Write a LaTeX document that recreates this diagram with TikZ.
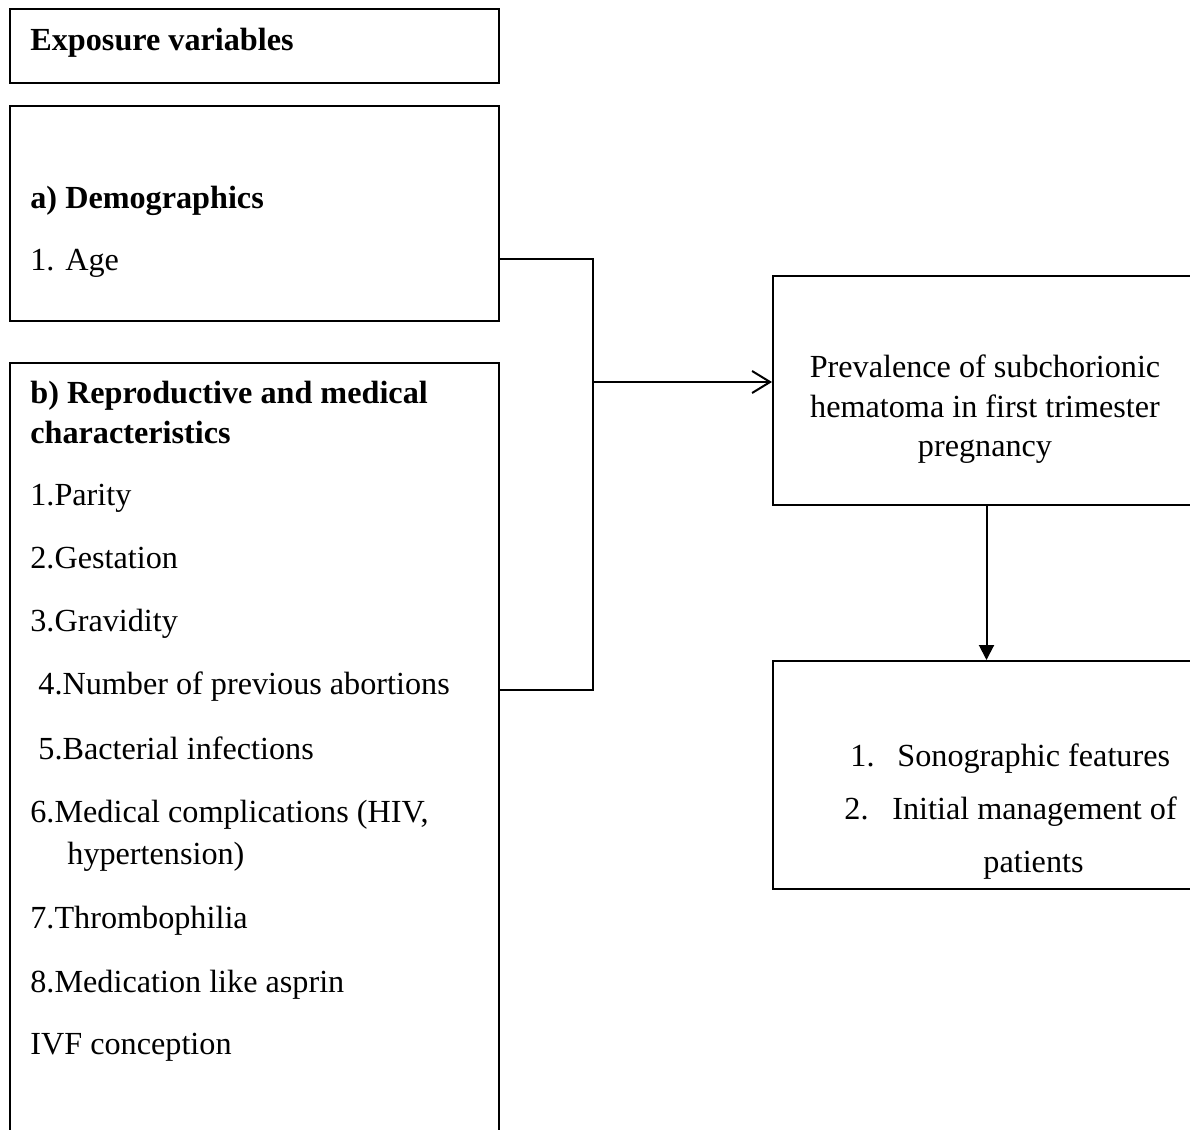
\documentclass[tikz,border=0pt]{standalone}
\usepackage{fontspec}
\setmainfont{Liberation Serif}
\usetikzlibrary{fit,arrows.meta}
\begin{document}
\begin{tikzpicture}[x=0.5pt,y=-0.5pt,
  box/.style={draw,line width=1pt,inner sep=0pt,fill=none},
  txt/.style={anchor=base west,inner sep=0pt,font=\fontsize{16.1pt}{19pt}\selectfont},
  ctxt/.style={anchor=base,inner sep=0pt,font=\fontsize{16.1pt}{19pt}\selectfont},
  link/.style={line width=1pt}]
\useasboundingbox (0,0) rectangle (1190,1130);
\clip (0,0) rectangle (1190,1130);
\fill[white] (0,0) rectangle (1190,1130);
% boxes
\node[box,fit={(10,9)(499,83)}] (expo) {};
\node[box,fit={(10,106)(499,321)}] (demo) {};
\node[box,fit={(10,363)(499,1145)}] (repro) {};
\node[box,fit={(773,276)(1200,505)}] (prev) {};
\node[box,fit={(773,661)(1200,889)}] (outc) {};
% texts
\node[txt] (t0) at (30,50) {\textbf{Exposure variables}};
\node[txt] (t1) at (30,208) {\textbf{a) Demographics}};
\node[txt] (t2) at (30,270) {1. Age};
\node[txt] (t3) at (30,403) {\textbf{b) Reproductive and medical}};
\node[txt] (t4) at (30,443) {\textbf{characteristics}};
\node[txt] (t5) at (30,505) {1.Parity};
\node[txt] (t6) at (30,568) {2.Gestation};
\node[txt] (t7) at (30,631) {3.Gravidity};
\node[txt] (t8) at (38,694) {4.Number of previous abortions};
\node[txt] (t9) at (38,759) {5.Bacterial infections};
\node[txt] (t10) at (30,822) {6.Medical complications (HIV,};
\node[txt] (t11) at (67,864) {hypertension)};
\node[txt] (t12) at (30,928) {7.Thrombophilia};
\node[txt] (t13) at (30,992) {8.Medication like asprin};
\node[txt] (t14) at (30,1054) {IVF conception};
\node[ctxt] (p1) at (985,377) {Prevalence of subchorionic};
\node[ctxt] (p2) at (985,417) {hematoma in first trimester};
\node[ctxt] (p3) at (985,456) {pregnancy};
\node[txt] (o1n) at (850,766) {1.};
\node[txt] (o1) at (897,766) {Sonographic features};
\node[txt] (o2n) at (844,819) {2.};
\node[txt] (o2) at (892,819) {Initial management of};
\node[txt] (o3) at (983,872) {patients};
% connectors
\coordinate (ageout) at (499,259);
\coordinate (abortout) at (499,690);
\coordinate (bar1) at (593,259);
\coordinate (bar2) at (593,690);
\coordinate (mid) at (593,382);
\draw[link] (ageout) -- (bar1) -- (bar2) -- (abortout);
\draw[link,-{Straight Barb[length=9pt,width=11pt,line width=1pt]}] (mid) -- (mid -| prev.west);
\draw[link,-{Triangle[length=7.5pt,width=7.5pt]}] (prev.south) -- (outc.north);
\end{tikzpicture}
\end{document}
